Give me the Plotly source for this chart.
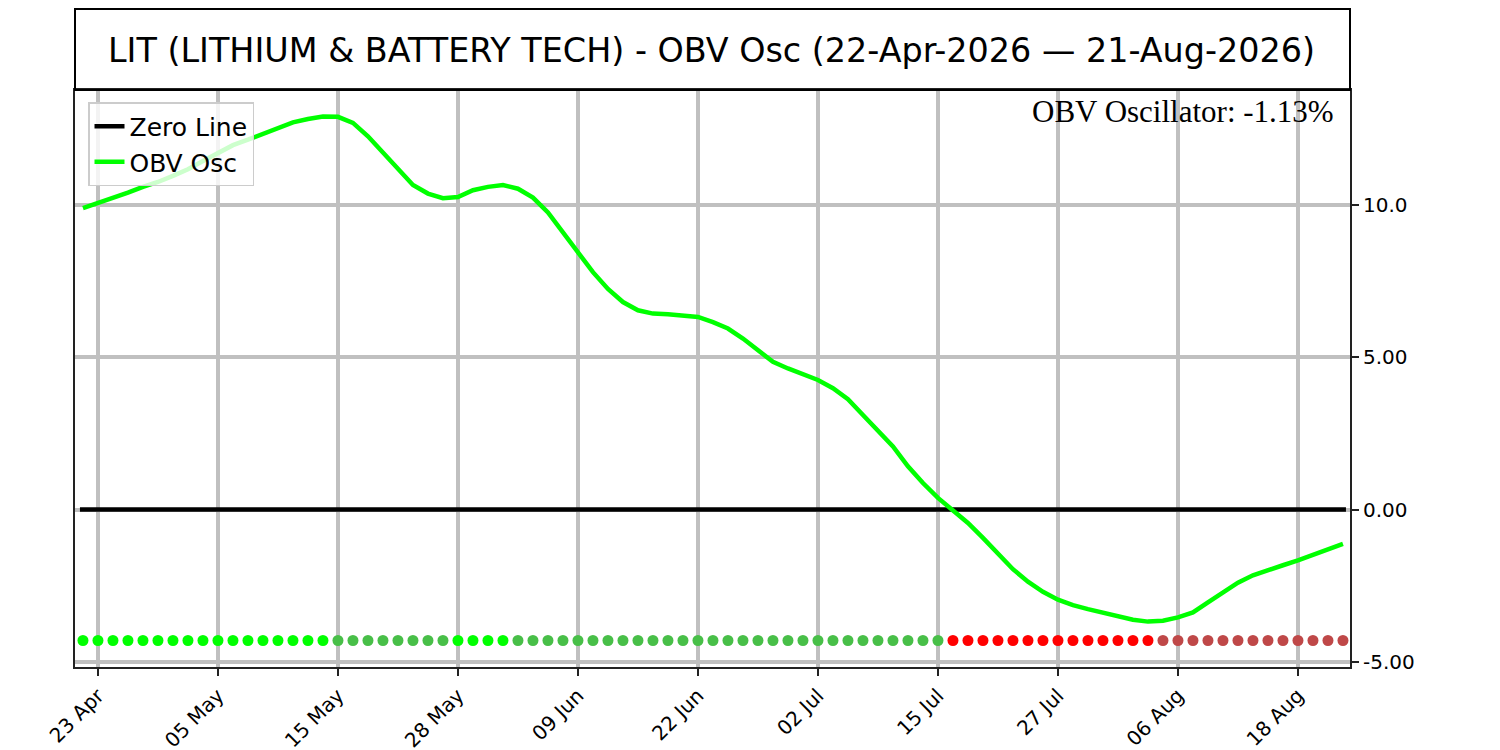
import pandas as pd
import plotly.graph_objects as go

# Jours de bourse (22 avril -> 21 août 2026, hors jours fériés US)
jours_feries = ["2026-05-25", "2026-06-19", "2026-07-03"]
dates = [d for d in pd.bdate_range("2026-04-22", "2026-08-21")
         if d.strftime("%Y-%m-%d") not in jours_feries]

# Valeurs de l'oscillateur OBV (%)
obv_osc = [
    9.89, 10.05, 10.22, 10.40, 10.59, 10.75, 10.95, 11.17, 11.44, 11.70,
    11.96, 12.14, 12.33, 12.55, 12.71, 12.82, 12.90, 12.89, 12.69, 12.25,
    11.71, 11.17, 10.65, 10.37, 10.22, 10.26, 10.48, 10.59, 10.65, 10.53,
    10.24, 9.75, 9.10, 8.44, 7.79, 7.24, 6.81, 6.54, 6.43, 6.41,
    6.38, 6.32, 6.15, 5.94, 5.61, 5.23, 4.85, 4.63, 4.44, 4.25,
    3.98, 3.62, 3.10, 2.61, 2.07, 1.42, 0.87, 0.38, -0.05, -0.44,
    -0.93, -1.42, -1.96, -2.37, -2.70, -2.96, -3.14, -3.27, -3.38, -3.51,
    -3.62, -3.68, -3.65, -3.54, -3.38, -3.05, -2.72, -2.40, -2.16, -1.98,
    -1.83, -1.67, -1.50, -1.33, -1.13,
]

y_ticks = [10.0, 5.0, 0.0, -5.0]
y_tick_labels = ["10.0", "5.00", "0.00", "-5.00"]
niveau_points = -4.3

x = list(range(len(dates)))
tick_pos = x[1::8]
tick_labels = [dates[i].strftime("%d %b") for i in tick_pos]

# Couleur des points : signe et pente de l'oscillateur
couleurs = []
for i, v in enumerate(obv_osc):
    monte = i == 0 or v >= obv_osc[i - 1]
    if v >= 0:
        couleurs.append("#00ff00" if monte else "#48bf48")
    else:
        couleurs.append("#bf4848" if monte else "#ff0000")

fig = go.Figure()

fig.add_trace(go.Scatter(
    x=[x[0] - 0.2, x[-1] + 0.2], y=[0, 0], mode="lines", name="Zero Line",
    line=dict(color="black", width=4.5)))

fig.add_trace(go.Scatter(
    x=x, y=obv_osc, mode="lines", name="OBV Osc",
    line=dict(color="#00ff00", width=4.5)))

fig.add_trace(go.Scatter(
    x=x, y=[niveau_points] * len(x), mode="markers", showlegend=False,
    marker=dict(color=couleurs, size=11)))

# Cadre du titre
fig.add_shape(type="rect", xref="paper", yref="paper",
              x0=0, x1=1, y0=1, y1=1.1404,
              line=dict(color="black", width=2))

fig.add_annotation(
    text=f"OBV Oscillator: {obv_osc[-1]:.2f}%",
    xref="paper", yref="paper", x=0.989, y=0.997,
    xanchor="right", yanchor="top", showarrow=False,
    font=dict(family="Liberation Serif", size=31, color="black"))

# la page a une marge de ~8 px : on décale les marges en conséquence
fig.update_layout(
    width=1500, height=750,
    margin=dict(l=67, r=158, t=82, b=91, autoexpand=False),
    paper_bgcolor="white", plot_bgcolor="white",
    font=dict(family="DejaVu Sans", color="black"),
    title=dict(
        text="LIT (LITHIUM & BATTERY TECH) - OBV Osc (22-Apr-2026 — 21-Aug-2026)",
        x=0.469, xanchor="center", y=1 - 42 / 750, yanchor="middle",
        font=dict(size=33.4, color="black")),
    legend=dict(
        x=0.0102, y=0.979, xanchor="left", yanchor="top",
        bgcolor="rgba(255,255,255,0.8)", bordercolor="#cccccc", borderwidth=1.5,
        font=dict(size=25), tracegroupgap=0, itemwidth=30),
    showlegend=True,
)

fig.update_xaxes(
    range=[-0.53, 84.47], tickmode="array", tickvals=tick_pos, ticktext=tick_labels,
    tickangle=-45, tickfont=dict(size=20), ticks="outside", ticklen=7,
    tickwidth=2, tickcolor="#222222", automargin=False,
    showgrid=True, gridcolor="#c0c0c0", gridwidth=4, zeroline=False,
    showline=True, linecolor="#222222", linewidth=2, mirror=True)

fig.update_yaxes(
    side="right", range=[-5.17, 13.77], tickmode="array",
    tickvals=y_ticks, ticktext=y_tick_labels, tickfont=dict(size=20),
    ticks="outside", ticklen=7, tickwidth=2, tickcolor="#222222", automargin=False,
    showgrid=True, gridcolor="#c0c0c0", gridwidth=4, zeroline=False,
    showline=True, linecolor="#222222", linewidth=2, mirror=True)

fig.write_html("out.html")
